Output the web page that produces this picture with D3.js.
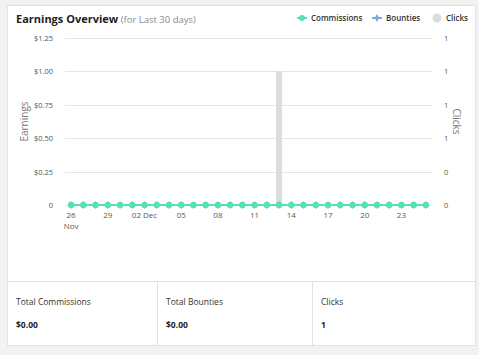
<!DOCTYPE html>
<html>
<head>
<meta charset="utf-8">
<script src="https://cdn.jsdelivr.net/npm/d3@7"></script>
<style>
  body { margin: 0; background: #f2f2f2; font-family: "Open Sans", "Noto Sans", sans-serif; }
  svg { display: block; }
</style>
</head>
<body>
<div id="chart"></div>
<script>
// last 30 days, 26 Nov -> 25 Dec
const days = ["26 Nov", "27 Nov", "28 Nov", "29 Nov", "30 Nov", "01 Dec", "02 Dec", "03 Dec", "04 Dec", "05 Dec",
  "06 Dec", "07 Dec", "08 Dec", "09 Dec", "10 Dec", "11 Dec", "12 Dec", "13 Dec", "14 Dec", "15 Dec",
  "16 Dec", "17 Dec", "18 Dec", "19 Dec", "20 Dec", "21 Dec", "22 Dec", "23 Dec", "24 Dec", "25 Dec"];
const commissions = [0, 0, 0, 0, 0, 0, 0, 0, 0, 0, 0, 0, 0, 0, 0, 0, 0, 0, 0, 0, 0, 0, 0, 0, 0, 0, 0, 0, 0, 0];
const bounties = [0, 0, 0, 0, 0, 0, 0, 0, 0, 0, 0, 0, 0, 0, 0, 0, 0, 0, 0, 0, 0, 0, 0, 0, 0, 0, 0, 0, 0, 0];
const clicks = [0, 0, 0, 0, 0, 0, 0, 0, 0, 0, 0, 0, 0, 0, 0, 0, 0, 1, 0, 0, 0, 0, 0, 0, 0, 0, 0, 0, 0, 0];

const tickDays = ["26 Nov", "29 Nov", "02 Dec", "05 Dec", "08 Dec", "11 Dec", "14 Dec", "17 Dec", "20 Dec", "23 Dec"];
const tickLabels = [["26", "Nov"], ["29"], ["02 Dec"], ["05"], ["08"], ["11"], ["14"], ["17"], ["20"], ["23"]];
const yTicks = [0, 0.25, 0.5, 0.75, 1, 1.25];

const totals = [
  { label: "Total Commissions", value: "$0.00" },
  { label: "Total Bounties", value: "$0.00" },
  { label: "Clicks", value: "1" }
];

const COMM = "#55e0b6", BOUNTY = "#7ea6e0", CLICK = "#dcdcdc";

const WIDTH = 479, HEIGHT = 355;
const card = { x: 7.5, y: 5.5, w: 468, h: 340 };
const plot = { left: 65, right: 432, top: 38, bottom: 205 };

const svg = d3.select("#chart").append("svg")
  .attr("width", WIDTH)
  .attr("height", HEIGHT);

// card background
svg.append("rect")
  .attr("x", card.x).attr("y", card.y)
  .attr("width", card.w).attr("height", card.h)
  .attr("fill", "#fff")
  .attr("stroke", "#e2e2e2");

// title
const title = svg.append("text")
  .attr("x", 16).attr("y", 23)
  .style("font-size", "11px").style("font-weight", 700).attr("fill", "#222");
title.append("tspan").text("Earnings Overview");
title.append("tspan").text(" (for Last 30 days)")
  .style("font-size", "9.5px").style("font-weight", 400).attr("fill", "#8a8a8a");

// legend
const legend = svg.append("g").style("font-size", "8px").style("font-weight", 600).attr("fill", "#333");
const lc = legend.append("g").attr("transform", "translate(302,18)");
lc.append("line").attr("x1", -5).attr("x2", 5).attr("stroke", COMM).attr("stroke-width", 2);
lc.append("circle").attr("r", 3).attr("fill", COMM);
lc.append("text").attr("x", 9).attr("dy", "0.35em").text("Commissions");
const lb = legend.append("g").attr("transform", "translate(377,18)");
lb.append("line").attr("x1", -5).attr("x2", 5).attr("stroke", BOUNTY).attr("stroke-width", 2);
lb.append("path").attr("d", d3.symbol(d3.symbolDiamond, 18)).attr("fill", BOUNTY);
lb.append("text").attr("x", 9).attr("dy", "0.35em").text("Bounties");
const lk = legend.append("g").attr("transform", "translate(437,18)");
lk.append("circle").attr("r", 4.5).attr("fill", CLICK);
lk.append("text").attr("x", 9).attr("dy", "0.35em").text("Clicks");

// scales
const x = d3.scaleBand().domain(days).range([plot.left, plot.right]);
const y = d3.scaleLinear().domain([0, 1.25]).range([plot.bottom, plot.top]);
const yRight = d3.scaleLinear().domain([0, 1.25]).range([plot.bottom, plot.top]);
const cx = d => x(d) + x.bandwidth() / 2;

// grid lines
svg.append("g").selectAll("line").data(yTicks).join("line")
  .attr("x1", plot.left).attr("x2", plot.right)
  .attr("y1", d => Math.round(y(d)) + 0.5).attr("y2", d => Math.round(y(d)) + 0.5)
  .attr("stroke", "#e6e6e6");

// left axis
const yAxisL = svg.append("g")
  .attr("transform", `translate(${plot.left - 9},0)`)
  .call(d3.axisLeft(y).tickValues(yTicks).tickSize(0)
    .tickFormat(d => d === 0 ? "0" : d3.format("$.2f")(d)));
yAxisL.select(".domain").remove();
yAxisL.selectAll("text").style("font-size", "7.5px").style("font-family", "Open Sans").attr("fill", "#555");

// right axis
const yAxisR = svg.append("g")
  .attr("transform", `translate(${plot.right + 9},0)`)
  .call(d3.axisRight(yRight).tickValues(yTicks).tickSize(0)
    .tickFormat(d => Math.round(d)));
yAxisR.select(".domain").remove();
yAxisR.selectAll("text").style("font-size", "7.5px").style("font-family", "Open Sans").attr("fill", "#555");

// axis titles
svg.append("text")
  .attr("transform", `translate(27.5,${(plot.top + plot.bottom) / 2}) rotate(-90)`)
  .attr("text-anchor", "middle")
  .style("font-size", "10px").attr("fill", "#777")
  .text("Earnings");
svg.append("text")
  .attr("transform", `translate(453,${(plot.top + plot.bottom) / 2}) rotate(90)`)
  .attr("text-anchor", "middle")
  .style("font-size", "10px").attr("fill", "#777")
  .text("Clicks");

// x axis labels
const xAxis = svg.append("g").attr("transform", `translate(0,${plot.bottom})`);
xAxis.selectAll("text").data(tickDays).join("text")
  .attr("x", d => cx(d))
  .attr("y", 13)
  .attr("text-anchor", "middle")
  .style("font-size", "8px").attr("fill", "#5f5850")
  .each(function (d, i) {
    const t = d3.select(this);
    tickLabels[i].forEach((s, j) => {
      t.append("tspan").attr("x", cx(d)).attr("dy", j ? 11 : 0).text(s);
    });
  });

// clicks bars
svg.append("g").selectAll("rect").data(days).join("rect")
  .attr("x", d => cx(d) - 3)
  .attr("width", 6)
  .attr("y", (d, i) => yRight(clicks[i]))
  .attr("height", (d, i) => plot.bottom - yRight(clicks[i]))
  .attr("fill", CLICK);

// bounties line + markers
const line = d3.line().x(d => cx(d[0])).y(d => y(d[1]));
svg.append("path")
  .datum(days.map((d, i) => [d, bounties[i]]))
  .attr("d", line).attr("fill", "none").attr("stroke", BOUNTY).attr("stroke-width", 2);
svg.append("g").selectAll("path").data(days).join("path")
  .attr("transform", (d, i) => `translate(${cx(d)},${y(bounties[i])})`)
  .attr("d", d3.symbol(d3.symbolDiamond, 18)).attr("fill", BOUNTY);

// commissions line + markers
svg.append("path")
  .datum(days.map((d, i) => [d, commissions[i]]))
  .attr("d", line).attr("fill", "none").attr("stroke", COMM).attr("stroke-width", 2);
svg.append("g").selectAll("circle").data(days).join("circle")
  .attr("cx", d => cx(d))
  .attr("cy", (d, i) => y(commissions[i]))
  .attr("r", 3.2)
  .attr("fill", COMM);

// bottom totals panel
const panelTop = 281.5;
svg.append("line").attr("x1", card.x).attr("x2", card.x + card.w)
  .attr("y1", panelTop).attr("y2", panelTop).attr("stroke", "#e2e2e2");
const colX = [card.x, 157.5, 312.5];
colX.slice(1).forEach(cxp => {
  svg.append("line").attr("x1", cxp).attr("x2", cxp)
    .attr("y1", panelTop).attr("y2", card.y + card.h).attr("stroke", "#e2e2e2");
});
const cells = svg.append("g").selectAll("g").data(totals).join("g")
  .attr("transform", (d, i) => `translate(${colX[i] + 8.5},0)`);
cells.append("text").attr("y", 305).style("font-size", "8.5px").attr("fill", "#333").text(d => d.label);
cells.append("text").attr("y", 328).style("font-size", "8.5px").style("font-weight", 700).attr("fill", "#222").text(d => d.value);
</script>
</body>
</html>
